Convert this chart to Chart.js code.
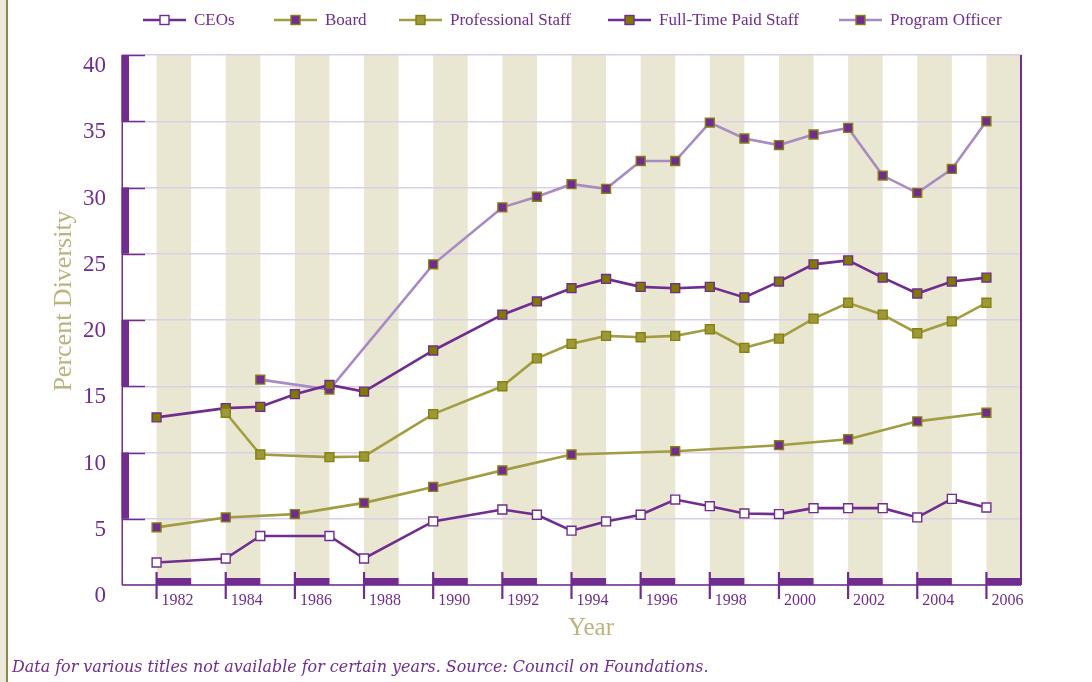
<!DOCTYPE html>
<html>
<head>
<meta charset="utf-8">
<script src="https://cdn.jsdelivr.net/npm/chart.js@4.4.1/dist/chart.umd.min.js"></script>
<style>
html,body{margin:0;padding:0;background:#fff;}
#wrap{position:relative;width:1092px;height:682px;overflow:hidden;background:#fff;}
#deco{position:absolute;left:0;top:0;width:6px;height:682px;background:#ebe8d9;border-right:2px solid #8d8646;}
#c{position:absolute;left:0;top:0;}
#note{position:absolute;left:12px;top:656px;font-family:'DejaVu Serif',serif;font-style:italic;font-size:15px;color:#702c8f;white-space:nowrap;line-height:22px;}
</style>
</head>
<body>
<div id="wrap">
<div id="deco"></div>
<canvas id="c" width="1092" height="682"></canvas>
<div id="note">Data for various titles not available for certain years. Source: Council on Foundations.</div>
</div>
<script>
// ---- data ----
const ceoYears = [1982,1984,1985,1987,1988,1990,1992,1993,1994,1995,1996,1997,1998,1999,2000,2001,2002,2003,2004,2005,2006];
const ceoValues = [1.7,2.0,3.7,3.7,2.0,4.8,5.7,5.3,4.1,4.8,5.3,6.45,5.95,5.4,5.35,5.8,5.8,5.8,5.1,6.5,5.85];

const boardYears = [1982,1984,1986,1988,1990,1992,1994,1997,2000,2002,2004,2006];
const boardValues = [4.35,5.1,5.35,6.2,7.4,8.65,9.85,10.1,10.55,11.0,12.35,13.0];

const profYears = [1984,1985,1987,1988,1990,1992,1993,1994,1995,1996,1997,1998,1999,2000,2001,2002,2003,2004,2005,2006];
const profValues = [13.0,9.85,9.65,9.7,12.9,15.0,17.1,18.2,18.8,18.7,18.8,19.3,17.9,18.6,20.1,21.3,20.4,19.0,19.9,21.3];

const fullYears = [1982,1984,1985,1986,1987,1988,1990,1992,1993,1994,1995,1996,1997,1998,1999,2000,2001,2002,2003,2004,2005,2006];
const fullValues = [12.65,13.35,13.45,14.4,15.1,14.6,17.7,20.4,21.4,22.4,23.1,22.5,22.4,22.5,21.7,22.9,24.2,24.5,23.2,22.0,22.9,23.2];

const poYears = [1985,1987,1990,1992,1993,1994,1995,1996,1997,1998,1999,2000,2001,2002,2003,2004,2005,2006];
const poValues = [15.5,14.75,24.2,28.5,29.3,30.25,29.9,32.0,32.0,34.9,33.7,33.2,34.0,34.5,30.9,29.6,31.4,35.0];

const seriesNames = ['CEOs','Board','Professional Staff','Full-Time Paid Staff','Program Officer'];
const xTickYears = [1982,1984,1986,1988,1990,1992,1994,1996,1998,2000,2002,2004,2006];
const xTickLabels = ['1982','1984','1986','1988','1990','1992','1994','1996','1998','2000','2002','2004','2006'];
const yTickValues = [0,5,10,15,20,25,30,35,40];
const yTickLabels = ['0','5','10','15','20','25','30','35','40'];
const xTitle = 'Year';
const yTitle = 'Percent Diversity';

// ---- styles ----
const PURPLE = '#702c8f';
const OLIVE = '#a29d42';
const OLIVE_DARK = '#858010';
const LILAC = '#a98bc4';
const BAND = '#e9e7d1';
const GRID = '#dacfe7';
const KHAKI = '#bcb47e';
const SERIF = "'Liberation Serif', 'Times New Roman', serif";
const LEGEND_X = [143, 274, 399, 608, 839];

// fit footnote to its width in the reference
(function(){
  const el = document.getElementById('note');
  const cx = document.createElement('canvas').getContext('2d');
  cx.font = "italic 15px 'DejaVu Serif'";
  const w = cx.measureText(el.textContent).width;
  el.style.fontSize = (15 * 697 / w).toFixed(2) + 'px';
})();

function pts(xs, ys){ return xs.map((x,i)=>({x:x, y:ys[i]})); }

function ds(label, data, line, fill, stroke){
  return {label, data, borderColor:line, backgroundColor:line, borderWidth:2.6,
    pointStyle:'rect', pointRadius:6.3, pointHoverRadius:6.3, pointBorderWidth:1.4,
    pointBackgroundColor:fill, pointBorderColor:stroke, tension:0, fill:false};
}

const datasets = [
  ds(seriesNames[0], pts(ceoYears, ceoValues), PURPLE, '#ffffff', PURPLE),
  ds(seriesNames[1], pts(boardYears, boardValues), OLIVE, PURPLE, OLIVE_DARK),
  ds(seriesNames[2], pts(profYears, profValues), OLIVE, '#9d9838', OLIVE_DARK),
  ds(seriesNames[3], pts(fullYears, fullValues), PURPLE, '#7e7a00', PURPLE),
  ds(seriesNames[4], pts(poYears, poValues), LILAC, PURPLE, OLIVE_DARK)
];

const decoPlugin = {
  id:'deco',
  beforeDraw(chart){
    const {ctx, chartArea:a, scales:{x}} = chart;
    ctx.save();
    ctx.fillStyle = BAND;
    xTickYears.forEach(yr=>{
      const x0 = x.getPixelForValue(yr), x1 = x.getPixelForValue(yr+1);
      ctx.fillRect(x0, a.top, x1-x0, a.bottom-a.top);
    });
    ctx.restore();
  },
  beforeDatasetsDraw(chart){
    const {ctx, chartArea:a, scales:{x,y}} = chart;
    ctx.save();
    ctx.fillStyle = PURPLE; ctx.strokeStyle = PURPLE;
    ctx.lineWidth = 1.5;
    yTickValues.forEach(v=>{
      if (v===0) return;
      const py = Math.round(y.getPixelForValue(v))+0.5;
      ctx.beginPath(); ctx.moveTo(a.left, py); ctx.lineTo(a.left+23, py); ctx.stroke();
    });
    for (let i=1;i<yTickValues.length;i+=2){
      const v0 = yTickValues[i], v1 = yTickValues[i+1];
      if (v1===undefined) break;
      const y0 = y.getPixelForValue(v1), y1 = y.getPixelForValue(v0);
      ctx.fillRect(a.left-0.5, y0, 7.5, y1-y0);
    }
    ctx.lineWidth = 1.5;
    ctx.beginPath(); ctx.moveTo(a.left+0.25, a.top); ctx.lineTo(a.left+0.25, a.bottom); ctx.stroke();
    ctx.beginPath(); ctx.moveTo(a.left, a.bottom); ctx.lineTo(a.right, a.bottom); ctx.stroke();
    ctx.lineWidth = 2;
    ctx.beginPath(); ctx.moveTo(a.right, a.top); ctx.lineTo(a.right, a.bottom); ctx.stroke();
    xTickYears.forEach(yr=>{
      const x0 = x.getPixelForValue(yr), x1 = x.getPixelForValue(yr+1);
      ctx.fillRect(x0, a.bottom-7, x1-x0, 7);
      ctx.lineWidth = 2.2;
      ctx.beginPath(); ctx.moveTo(x0, a.bottom-13); ctx.lineTo(x0, a.bottom+14); ctx.stroke();
    });
    ctx.restore();
  },
  afterDraw(chart){
    const {ctx} = chart;
    ctx.save();
    ctx.fillStyle = KHAKI;
    ctx.textAlign = 'center'; ctx.textBaseline = 'middle';
    ctx.font = '25px ' + SERIF;
    ctx.fillText(xTitle, 591, 628);
    ctx.font = '26px ' + SERIF;
    ctx.translate(64, 301); ctx.rotate(-Math.PI/2);
    ctx.fillText(yTitle, 0, 0);
    ctx.restore();
    ctx.save();
    ctx.font = '17px ' + SERIF;
    ctx.textBaseline = 'middle'; ctx.textAlign = 'left';
    const ly = 20;
    chart.data.datasets.forEach((d,i)=>{
      const lx = LEGEND_X[i];
      ctx.strokeStyle = d.borderColor; ctx.lineWidth = 2.6;
      ctx.beginPath(); ctx.moveTo(lx, ly); ctx.lineTo(lx+43, ly); ctx.stroke();
      ctx.fillStyle = d.pointBackgroundColor; ctx.strokeStyle = d.pointBorderColor; ctx.lineWidth = 1.4;
      ctx.fillRect(lx+17, ly-4.5, 9, 9); ctx.strokeRect(lx+17, ly-4.5, 9, 9);
      ctx.fillStyle = PURPLE;
      ctx.fillText(d.label, lx+51, ly+1);
    });
    ctx.restore();
  }
};

new Chart(document.getElementById('c'), {
  type:'line',
  data:{datasets},
  plugins:[decoPlugin],
  options:{
    responsive:false, animation:false, devicePixelRatio:1,
    layout:{padding:{left:0, right:71, top:55, bottom:0}},
    plugins:{legend:{display:false}, tooltip:{enabled:false}},
    scales:{
      x:{type:'linear', min:1981, max:2007,
        afterBuildTicks:(s)=>{ s.ticks = xTickYears.map(v=>({value:v})); },
        afterFit:(s)=>{ s.height = 97; },
        grid:{display:false, drawTicks:false},
        border:{display:false},
        ticks:{autoSkip:false, maxRotation:0, align:'start', labelOffset:5, padding:6,
          color:PURPLE, font:{family:SERIF, size:16},
          callback:(v,i)=>xTickLabels[i]}
      },
      y:{type:'linear', min:0, max:40,
        afterBuildTicks:(s)=>{ s.ticks = yTickValues.map(v=>({value:v})); },
        afterFit:(s)=>{ s.width = 122; },
        grid:{color:GRID, lineWidth:1.5, drawTicks:false},
        border:{display:false},
        ticks:{padding:16, labelOffset:11, color:PURPLE, font:{family:SERIF, size:23},
          callback:(v,i)=>yTickLabels[i]}
      }
    }
  }
});
</script>
</body>
</html>
